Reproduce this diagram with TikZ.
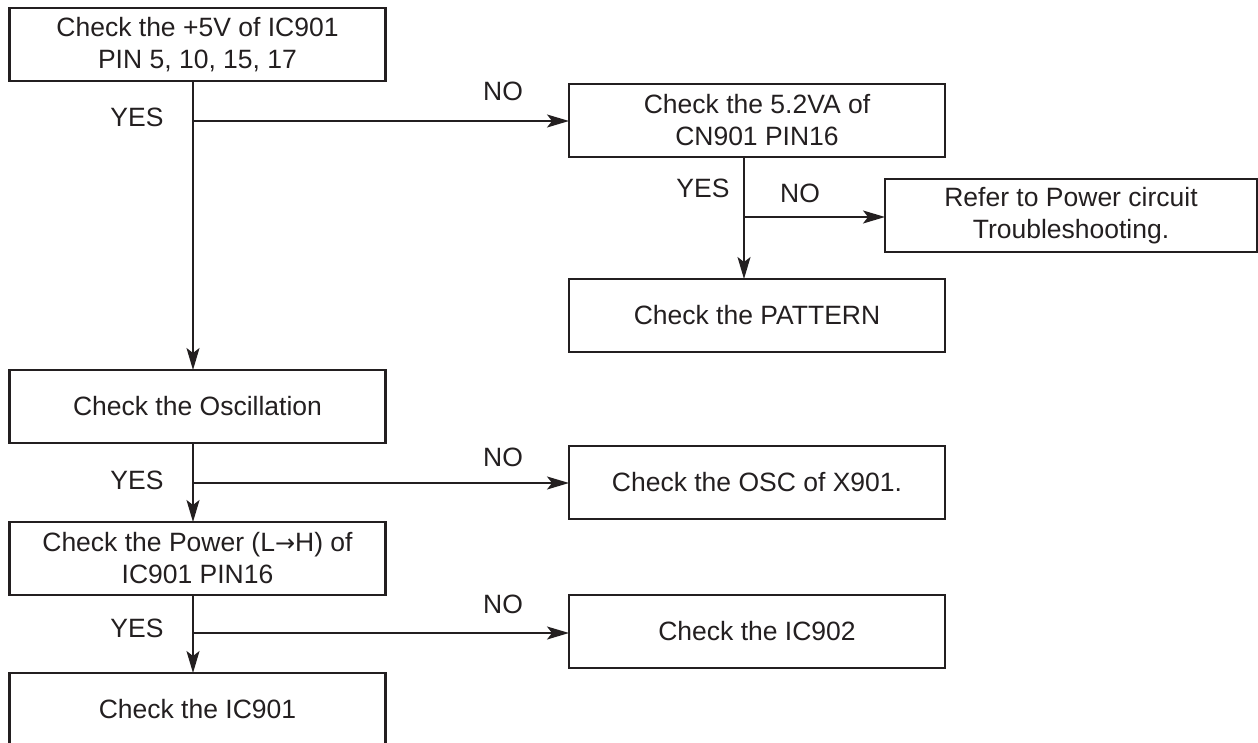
\documentclass[tikz,border=0pt]{standalone}
\usepackage{fontspec}
\setmainfont{Liberation Sans}
\newfontfamily\arrowfont{DejaVu Sans}
\usetikzlibrary{arrows.meta}
\definecolor{ink}{HTML}{231F20}
\begin{document}
\begin{tikzpicture}[x=1pt,y=-1pt,
  box/.style={draw=ink, line width=2.2pt, rectangle, minimum width=376pt, minimum height=73pt, inner sep=0pt, outer sep=0pt, align=center, text=ink, font=\fontsize{26.5}{32}\selectfont},
  lbl/.style={text=ink, inner sep=0pt, font=\fontsize{26.5}{32}\selectfont},
  conn/.style={draw=ink, line width=1.5pt},
  arr/.style={conn, -{Stealth[length=22pt, width=13pt, inset=5pt]}}]
\useasboundingbox (0,0) rectangle (1258,743);
% boxes
\node[box] (b1) at (197.5,44.5) {Check the +5V of IC901\\PIN 5, 10, 15, 17};
\node[box] (b2) at (757,120.5) {Check the 5.2VA of\\CN901 PIN16};
\node[box, minimum width=372pt] (ref) at (1071,215.5) {Refer to Power circuit\\Troubleshooting.};
\node[box] (pat) at (757,315.5) {Check the PATTERN};
\node[box] (osc) at (197.5,406.5) {Check the Oscillation};
\node[box] (x901) at (757,482.5) {Check the OSC of X901.};
\node[box] (pow) at (197.5,558.5) {Check the Power (L{\arrowfont\fontsize{24}{32}\selectfont →}H) of\\IC901 PIN16};
\node[box] (ic902) at (757,631.5) {Check the IC902};
\node[box] (ic901) at (197.5,709.5) {Check the IC901};
% spine coordinates
\coordinate (s1) at (193,0);
\coordinate (s2) at (744,0);
\coordinate (j1) at (193,121);
\coordinate (j2) at (744,217);
\coordinate (j3) at (193,483);
\coordinate (j4) at (193,633);
% connectors
\draw[arr] (b1.south -| s1) -- (osc.north -| s1);
\draw[arr] (j1) -- (j1 -| b2.west);
\draw[arr] (b2.south -| s2) -- (pat.north -| s2);
\draw[arr] (j2) -- (j2 -| ref.west);
\draw[arr] (osc.south -| s1) -- (pow.north -| s1);
\draw[arr] (j3) -- (j3 -| x901.west);
\draw[arr] (pow.south -| s1) -- (ic901.north -| s1);
\draw[arr] (j4) -- (j4 -| ic902.west);
% labels
\node[lbl] (y1) at (137,117.5) {YES};
\node[lbl] (n1) at (503,91) {NO};
\node[lbl] (y2) at (703,188.5) {YES};
\node[lbl] (n2) at (800,193) {NO};
\node[lbl] (y3) at (137,480) {YES};
\node[lbl] (n3) at (503,457) {NO};
\node[lbl] (y4) at (137,628) {YES};
\node[lbl] (n4) at (503,604) {NO};
\end{tikzpicture}
\end{document}
